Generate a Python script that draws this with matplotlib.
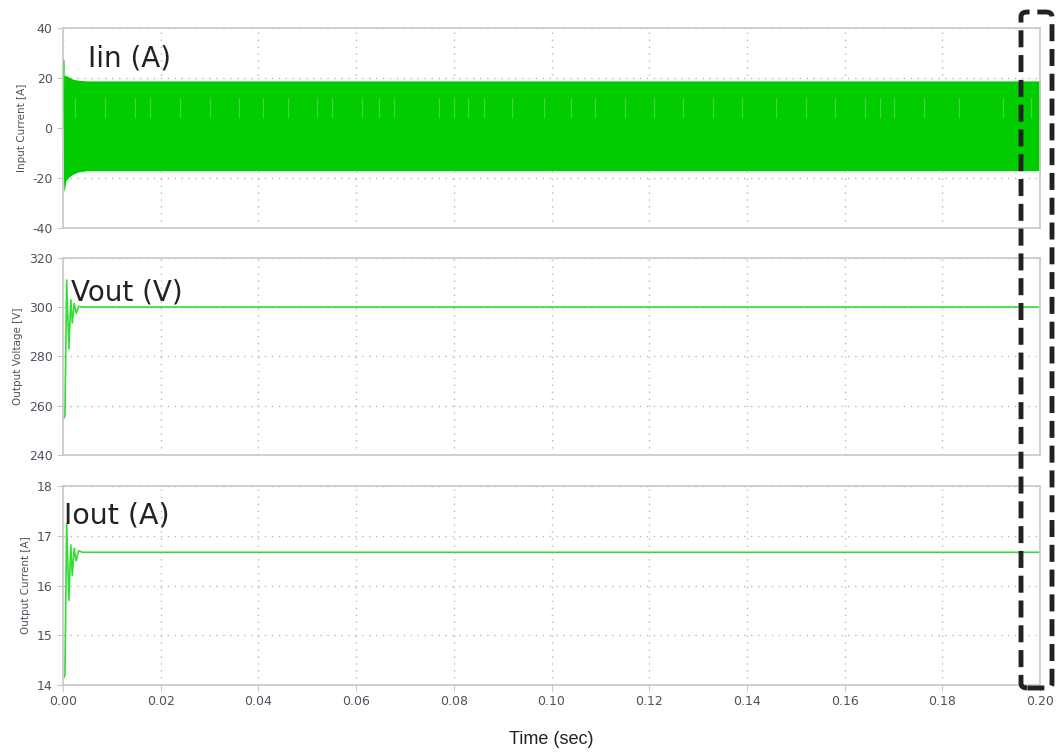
import matplotlib.pyplot as plt
from matplotlib.patches import FancyBboxPatch
import numpy as np

plt.rcParams['axes.unicode_minus'] = False

# input current envelope (A)
iin_t = [0.0, 0.0001, 0.00018, 0.0003, 0.0006, 0.0012, 0.002, 0.003, 0.005, 0.2]
iin_hi = [0.0, 21.0, 27.0, 21.2, 21.0, 20.5, 19.6, 19.2, 18.9, 18.9]
iin_lo = [0.0, -20.0, -25.0, -24.8, -21.0, -19.6, -18.5, -17.6, -17.0, -17.0]
# lighter streaks inside the band
streak_t = [0.0024, 0.0086, 0.0147, 0.0178, 0.024, 0.030, 0.036, 0.041, 0.046,
            0.052, 0.0551, 0.0612, 0.0647, 0.0678, 0.0769, 0.080, 0.083, 0.0861,
            0.092, 0.0985, 0.104, 0.109, 0.115, 0.121, 0.127, 0.133, 0.139,
            0.146, 0.152, 0.158, 0.1641, 0.1672, 0.1702, 0.1763, 0.1835, 0.1925, 0.1982]

# output voltage (V)
vout_t = [0.0, 0.0002, 0.0004, 0.00075, 0.0012, 0.0016, 0.0019, 0.0023, 0.0027, 0.0032, 0.004, 0.2]
vout = [255.0, 255.0, 256.0, 311.0, 283.0, 303.0, 293.5, 301.5, 297.5, 300.3, 300.0, 300.0]

# output current (A)
iout_t = [0.0, 0.0002, 0.0004, 0.00075, 0.0012, 0.0016, 0.0019, 0.0023, 0.0027, 0.0032, 0.004, 0.2]
iout = [14.15, 14.15, 14.2, 17.25, 15.7, 16.82, 16.2, 16.75, 16.5, 16.7, 16.67, 16.67]

green = '#00cc00'
line_green = '#33dd33'
frame = '#c8c8c8'
tick_col = '#505060'

fig = plt.figure(figsize=(10.63, 7.53), dpi=100)
left, width = 63 / 1063, 977 / 1063
ax1 = fig.add_axes([left, 0.697, width, 0.2656])
ax2 = fig.add_axes([left, 0.396, width, 0.2616])
ax3 = fig.add_axes([left, 0.0903, width, 0.264])

ax1.fill_between(iin_t, iin_lo, iin_hi, color=green, lw=0, zorder=2)
ax1.plot(iin_t[:4], iin_hi[:4], color='#66e066', lw=1, zorder=3)
ax1.vlines(streak_t, 4, 12, color='#3fd63f', lw=0.9, zorder=3)
ax1.set_ylim(-40, 40)
ax1.set_yticks([-40, -20, 0, 20, 40])
ax1.set_ylabel('Input Current [A]')
ax1.text(0.0052, 28, 'Iin (A)', fontsize=20, color='#222222', va='center')

ax2.plot(vout_t, vout, color=line_green, lw=1.2)
ax2.set_ylim(240, 320)
ax2.set_yticks([240, 260, 280, 300, 320])
ax2.set_ylabel('Output Voltage [V]')
ax2.text(0.0016, 306, 'Vout (V)', fontsize=20, color='#222222', va='center')

ax3.plot(iout_t, iout, color=line_green, lw=1.2)
ax3.set_ylim(14, 18)
ax3.set_yticks([14, 15, 16, 17, 18])
ax3.set_ylabel('Output Current [A]')
ax3.text(0.0003, 17.42, 'Iout (A)', fontsize=20.5, color='#222222', va='center')
ax3.set_xlabel('Time (sec)', fontsize=13, color='#222222',
               fontfamily='Liberation Sans', labelpad=16)

for ax in (ax1, ax2, ax3):
    ax.set_xlim(0, 0.2)
    ax.set_xticks(np.arange(0, 0.201, 0.02))
    ax.grid(True, ls=(0, (1, 4)), color='#b8b8b8', lw=1)
    ax.set_axisbelow(True)
    for s in ax.spines.values():
        s.set_color(frame)
        s.set_linewidth(1.2)
    ax.tick_params(colors=frame, labelcolor=tick_col, labelsize=9, length=4)
    ax.yaxis.label.set_size(7.5)
    ax.yaxis.label.set_color('#505060')
    if ax is not ax3:
        ax.tick_params(axis='x', labelbottom=False, length=0)
ax3.xaxis.set_major_formatter(plt.FormatStrFormatter('%.2f'))

# dashed highlight box around the end of the run
box = FancyBboxPatch((1021 / 1063, 1 - 688 / 753), 31 / 1063, 676 / 753,
                     boxstyle='round,pad=0,rounding_size=0.006',
                     transform=fig.transFigure, fill=False, ec='#222222',
                     lw=3.5, ls=(0, (3.5, 1.6)), zorder=10)
fig.patches.append(box)

fig.savefig('out.png', dpi=100)
